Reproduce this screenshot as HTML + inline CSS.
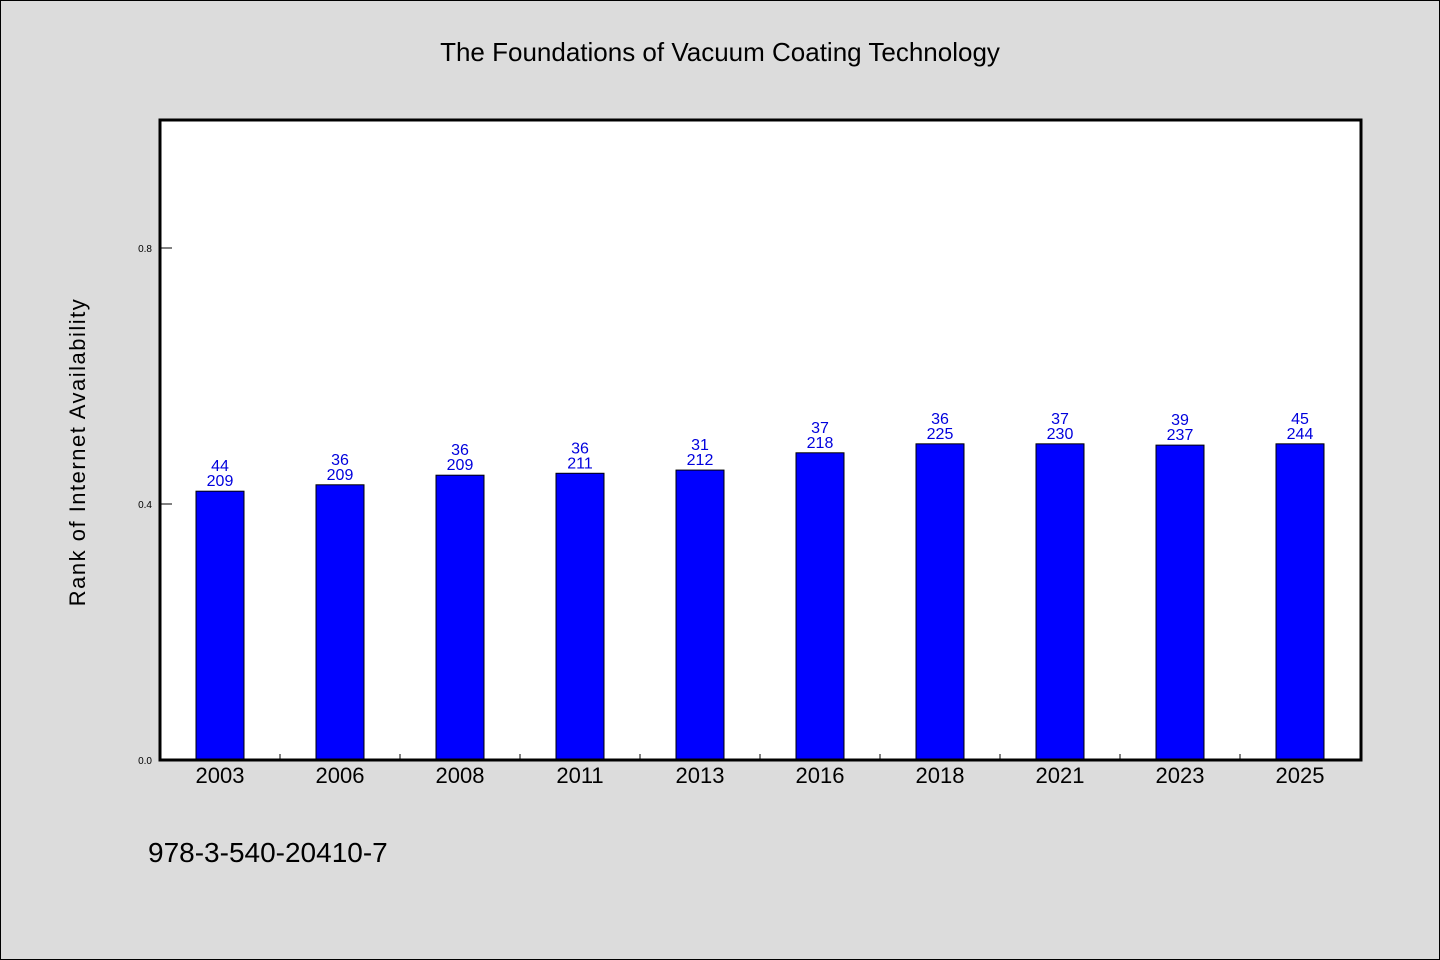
<!DOCTYPE html>
<html><head><meta charset="utf-8"><style>
body{margin:0;background:#dcdcdc;}
svg{display:block;font-family:"WenQuanYi Zen Hei","Liberation Sans",sans-serif;}
</style></head><body>
<svg id="chart" width="1440" height="960">
<rect x="0.5" y="0.5" width="1439" height="959" fill="#dcdcdc" stroke="#000"/>
<text x="720" y="61" text-anchor="middle" font-size="26">The Foundations of Vacuum Coating Technology</text>
<rect x="160" y="120" width="1201" height="640" fill="#fff"/>
<g id="bars"></g>
<g id="axes"></g>
<rect x="160" y="120" width="1201" height="640" fill="none" stroke="#000" stroke-width="3"/>
<text transform="translate(85,452) rotate(-90)" text-anchor="middle" font-size="22" letter-spacing="1.5">Rank of Internet Availability</text>
<text x="148" y="862" font-size="28">978-3-540-20410-7</text>
</svg>
<script>
const categories=["2003","2006","2008","2011","2013","2016","2018","2021","2023","2025"];
const values=[0.420,0.430,0.445,0.448,0.453,0.480,0.494,0.494,0.492,0.494];
const topLabels=["44","36","36","36","31","37","36","37","39","45"];
const bottomLabels=["209","209","209","211","212","218","225","230","237","244"];
const yTicks=[0,0.4,0.8];
const yTickLabels=["0.0","0.4","0.8"];
const NS="http://www.w3.org/2000/svg";
const x0=160,y0=760,band=120,yMax=1.0,plotH=640;
const xs=i=>x0+band*i+band/2;
const ys=v=>y0-v/yMax*plotH;
function mk(t,a,p){const e=document.createElementNS(NS,t);for(const k in a)e.setAttribute(k,a[k]);p.appendChild(e);return e;}
const bars=document.getElementById('bars'),axes=document.getElementById('axes');
categories.forEach((c,i)=>{
 const cx=xs(i),top=ys(values[i]);
 const r=mk('rect',{x:cx-24,y:top,width:48,height:y0-top,fill:'#0000ff',stroke:'#000','stroke-width':1},bars);
 
 
 const t1=mk('text',{x:cx,y:top-20,'text-anchor':'middle','font-size':16,fill:'#0000dd'},bars);
 t1.textContent=topLabels[i];
 
 
 const t2=mk('text',{x:cx,y:top-5,'text-anchor':'middle','font-size':16,fill:'#0000dd'},bars);
 t2.textContent=bottomLabels[i];
 
 
 const xl=mk('text',{x:cx,y:783,'text-anchor':'middle','font-size':22},axes);
 xl.textContent=c;
 
 
 if(i>0){const tk=mk('line',{x1:x0+band*i,x2:x0+band*i,y1:y0,y2:y0-6,stroke:'#000'},axes);
 
 }
});
yTicks.forEach((v,i)=>{
 const y=ys(v);
 const tk=mk('line',{x1:x0,x2:x0+12,y1:y,y2:y,stroke:'#000'},axes);
 
 
 const tl=mk('text',{x:152,y:y+4,'text-anchor':'end','font-size':10},axes);
 tl.textContent=yTickLabels[i];
 
 
});
</script>
</body></html>
